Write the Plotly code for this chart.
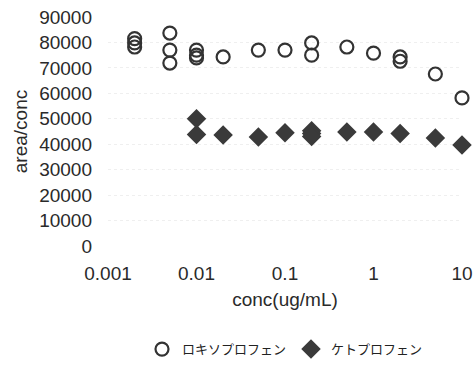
import plotly.graph_objects as go

# Loxoprofen (open circles)
loxo_conc = [0.002, 0.002, 0.002, 0.005, 0.005, 0.005, 0.01, 0.01, 0.01, 0.02,
             0.05, 0.1, 0.2, 0.2, 0.5, 1, 2, 2, 5, 10]
loxo_val = [81500, 79800, 78200, 83700, 77000, 71900, 77000, 75000, 73900, 74300,
            77000, 77000, 79800, 75000, 78200, 75800, 74300, 72600, 67600, 58200]

# Ketoprofen (filled diamonds)
keto_conc = [0.01, 0.01, 0.02, 0.05, 0.1, 0.2, 0.2, 0.2, 0.5, 1, 2, 5, 10]
keto_val = [50000, 43800, 43600, 42800, 44500, 45300, 44200, 43000, 44800, 44800, 44200, 42400, 39700]

x_ticks = [0.001, 0.01, 0.1, 1, 10]
x_ticktext = ["0.001", "0.01", "0.1", "1", "10"]

fig = go.Figure()
fig.add_trace(go.Scatter(
    x=loxo_conc, y=loxo_val, mode="markers", name="ロキソプロフェン",
    marker=dict(symbol="circle-open", size=13, color="#333333", line=dict(width=2.2, color="#333333")),
    cliponaxis=False,
))
fig.add_trace(go.Scatter(
    x=keto_conc, y=keto_val, mode="markers", name="ケトプロフェン",
    marker=dict(symbol="diamond", size=15, color="#3a3a3a", line=dict(width=0)),
    cliponaxis=False,
))

fig.update_layout(
    width=476, height=374,
    margin=dict(l=108, r=14, t=17, b=128, autoexpand=False),
    paper_bgcolor="white", plot_bgcolor="white",
    font=dict(family="Liberation Sans, Arial, sans-serif", size=19, color="#2a2a2a"),
    showlegend=True,
    legend=dict(orientation="h", x=0.5, xanchor="center", y=-0.385, yanchor="top",
                font=dict(family="Noto Sans CJK JP", size=13, color="#222222"),
                itemwidth=30, tracegroupgap=0),
)
fig.update_xaxes(
    type="log", range=[-3, 1], tickvals=x_ticks, ticktext=x_ticktext,
    showgrid=False, zeroline=False, showline=False, ticks="",
    ticklabelstandoff=14,
    title=dict(text="conc(ug/mL)", font=dict(size=19), standoff=9),
)
fig.update_yaxes(
    range=[0, 90000], dtick=10000, tickformat="d",
    showgrid=True, gridcolor="#efefef", griddash="dot", gridwidth=1,
    zeroline=False, showline=False, ticks="",
    ticklabelstandoff=15,
    title=dict(text="area/conc", font=dict(size=19), standoff=6),
)

fig.write_html("out.html")
